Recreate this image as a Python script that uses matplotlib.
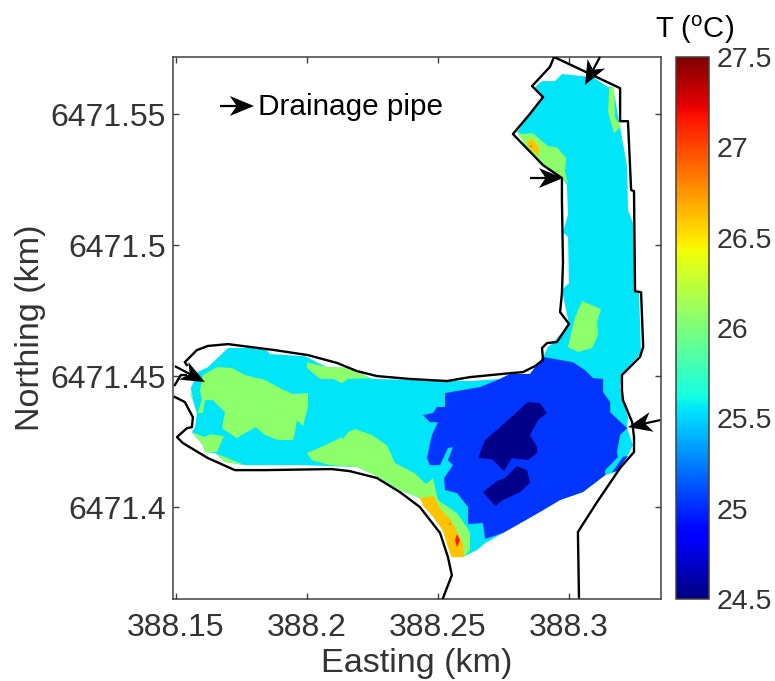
import numpy as np
import matplotlib
matplotlib.use("Agg")
import matplotlib.pyplot as plt
from matplotlib.cm import ScalarMappable
from matplotlib.colors import Normalize

# easting / northing of every outline are stored relative to these (km)
E0 = 388.0
N0 = 6471.0

x_ticks = [388.15, 388.2, 388.25, 388.3]
x_tick_labels = ["388.15", "388.2", "388.25", "388.3"]
y_ticks = [6471.4, 6471.45, 6471.5, 6471.55]
y_tick_labels = ["6471.4", "6471.45", "6471.5", "6471.55"]
cbar_ticks = [24.5, 25, 25.5, 26, 26.5, 27, 27.5]
cbar_tick_labels = ["24.5", "25", "25.5", "26", "26.5", "27", "27.5"]

shore_east = [(.2943, .5718), (.3195, .5599), (.3195, .5473), (.3225, .5473), (.3237, .5210),
              (.3248, .5206), (.3252, .4824), (.3275, .4820), (.3283, .4611), (.3271, .4573),
              (.3202, .4504), (.3202, .4447), (.3206, .4408), (.3241, .4324), (.3248, .4267),
              (.3248, .4210), (.3195, .4149), (.3107, .4019), (.3034, .3905), (.3038, .3656)]
shore_north = [(.2943, .5718), (.2927, .5680), (.2859, .5607), (.2901, .5565), (.2847, .5496),
               (.2786, .5424), (.2901, .5305), (.2973, .5256), (.2973, .5172), (.2977, .4931),
               (.2973, .4817), (.2966, .4744), (.3000, .4699), (.2954, .4630), (.2916, .4626),
               (.2897, .4607), (.2901, .4561), (.2870, .4538), (.2824, .4515), (.2775, .4511),
               (.2622, .4496), (.2534, .4481), (.2393, .4489), (.2267, .4500), (.2191, .4519),
               (.2115, .4550), (.2004, .4580), (.1878, .4599), (.1699, .4622), (.1622, .4615),
               (.1580, .4599), (.1534, .4553), (.1542, .4542)]
shore_stub = [(.1496, .4466), (.1519, .4504), (.1538, .4504)]
shore_south = [(.1496, .4420), (.1534, .4401), (.1565, .4343), (.1561, .4305), (.1542, .4301),
               (.1504, .4267), (.1527, .4244), (.1622, .4187), (.1725, .4141), (.1840, .4141),
               (.2095, .4145), (.2164, .4137), (.2267, .4111), (.2355, .4057), (.2431, .4000),
               (.2508, .3901), (.2538, .3809), (.2553, .3740), (.2519, .3652)]

t255_main = [(.2973, .5653), (.3092, .5641), (.3149, .5603), (.3168, .5603), (.3195, .5450),
             (.3222, .5298), (.3225, .5134), (.3244, .5084), (.3252, .4824), (.3267, .4817),
             (.3275, .4588), (.3202, .4508), (.3195, .4458), (.3225, .4343), (.3222, .4301),
             (.3244, .4236), (.3225, .4198), (.3176, .4133), (.3138, .4122), (.3053, .4057),
             (.2966, .4027), (.2889, .3981), (.2801, .3931), (.2748, .3901), (.2680, .3862),
             (.2649, .3836), (.2595, .3809), (.2553, .3809), (.2519, .3912), (.2431, .4034),
             (.2355, .4065), (.2267, .4118), (.2191, .4153), (.1973, .4160), (.1764, .4160),
             (.1687, .4172), (.1649, .4206), (.1611, .4210), (.1603, .4236), (.1561, .4286),
             (.1573, .4305), (.1580, .4359), (.1561, .4420), (.1557, .4454), (.1584, .4515),
             (.1622, .4534), (.1699, .4607), (.1840, .4607), (.1859, .4584), (.1992, .4576),
             (.2076, .4534), (.2164, .4531), (.2248, .4489), (.2622, .4481), (.2737, .4489),
             (.2775, .4508), (.2851, .4508), (.2901, .4573), (.2920, .4611), (.2939, .4626),
             (.3000, .4699), (.2973, .4829), (.3000, .4855), (.2996, .5031), (.2977, .5050),
             (.2996, .5115), (.2992, .5229), (.2973, .5256), (.2901, .5305), (.2801, .5432),
             (.2843, .5489), (.2901, .5561), (.2870, .5603), (.2897, .5626), (.2947, .5626)]

t26_ne = [(.3153, .5599), (.3172, .5603), (.3176, .5485), (.3199, .5454), (.3172, .5427), (.3149, .5508)]
t26_bend = [(.2801, .5432), (.2820, .5424), (.2862, .5427), (.2920, .5378), (.2954, .5374),
            (.2989, .5332), (.2985, .5278), (.2996, .5233), (.2973, .5256), (.2901, .5305),
            (.2840, .5370)]
t26_neck = [(.3050, .4786), (.3122, .4756), (.3107, .4706), (.3111, .4657), (.3088, .4607),
            (.3034, .4592), (.2996, .4611), (.3023, .4725)]
t26_west = [(.1592, .4447), (.1603, .4504), (.1657, .4534), (.1714, .4531), (.1764, .4504),
            (.1840, .4485), (.1897, .4454), (.1947, .4431), (.2004, .4435), (.2004, .4382),
            (.1985, .4309), (.1962, .4332), (.1954, .4282), (.1947, .4256), (.1889, .4256),
            (.1840, .4275), (.1805, .4305), (.1764, .4282), (.1733, .4263), (.1676, .4301),
            (.1687, .4362), (.1641, .4408), (.1611, .4408), (.1603, .4359), (.1584, .4359),
            (.1599, .4408)]
t26_west_edge = [(.1557, .4454), (.1565, .4420), (.1557, .4416)]
t26_sw = [(.1561, .4286), (.1611, .4267), (.1630, .4278), (.1683, .4271), (.1657, .4210),
          (.1611, .4210), (.1603, .4236)]
t26_sw_edge = [(.1649, .4206), (.1687, .4191), (.1764, .4160), (.1687, .4172)]
t26_north = [(.2000, .4553), (.2076, .4534), (.2164, .4531), (.2244, .4492), (.2157, .4489),
             (.2134, .4473), (.2099, .4489), (.2050, .4489), (.2000, .4531)]
t26_south = [(.2019, .4179), (.2000, .4206), (.2069, .4236), (.2134, .4267), (.2138, .4259),
             (.2157, .4286), (.2183, .4298), (.2248, .4275), (.2305, .4236), (.2336, .4168),
             (.2412, .4129), (.2454, .4088), (.2481, .4110), (.2500, .4027), (.2573, .3977),
             (.2622, .3905), (.2622, .3836), (.2599, .3809), (.2553, .3809), (.2519, .3912),
             (.2431, .4034), (.2355, .4065), (.2267, .4118), (.2191, .4153), (.2088, .4160)]

t265_bend = [(.2836, .5393), (.2859, .5405), (.2885, .5374), (.2885, .5340), (.2851, .5370)]
t265_south = [(.2431, .4034), (.2485, .4042), (.2504, .4000), (.2550, .3950), (.2595, .3862),
              (.2599, .3809), (.2553, .3809), (.2538, .3847), (.2519, .3912), (.2477, .3969),
              (.2447, .4000)]
t27_bend = [(.2851, .5382), (.2859, .5378), (.2855, .5374)]
t27_south = [(.2573, .3897), (.2584, .3874), (.2573, .3847), (.2565, .3874)]
t27_dot = [(.2542, .3938), (.2550, .3938), (.2546, .3931)]

t25_main = [(.2527, .4435), (.2660, .4458), (.2737, .4489), (.2775, .4508), (.2851, .4508),
            (.2901, .4573), (.3015, .4553), (.3061, .4523), (.3092, .4492), (.3130, .4489),
            (.3130, .4439), (.3157, .4401), (.3157, .4362), (.3222, .4301), (.3195, .4275),
            (.3183, .4210), (.3187, .4191), (.3138, .4141), (.3138, .4122), (.3053, .4057),
            (.2966, .4027), (.2889, .3981), (.2801, .3931), (.2748, .3901), (.2680, .3878),
            (.2672, .3939), (.2615, .3935), (.2615, .4000), (.2573, .4053), (.2527, .4065),
            (.2523, .4110), (.2557, .4160), (.2538, .4179), (.2557, .4229), (.2538, .4225),
            (.2508, .4160), (.2469, .4160), (.2458, .4187), (.2477, .4275), (.2500, .4324),
            (.2469, .4324), (.2443, .4351), (.2481, .4359), (.2496, .4382), (.2527, .4382)]
t25_east = [(.3225, .4195), (.3206, .4191), (.3164, .4133), (.3183, .4137)]
t245_north = [(.2843, .4401), (.2889, .4397), (.2916, .4359), (.2882, .4332), (.2851, .4275),
              (.2878, .4229), (.2878, .4206), (.2843, .4179), (.2782, .4187), (.2752, .4137),
              (.2706, .4183), (.2653, .4187), (.2680, .4256), (.2737, .4305)]
t245_south = [(.2801, .4156), (.2840, .4141), (.2851, .4092), (.2813, .4057), (.2748, .4027),
              (.2718, .4004), (.2672, .4057), (.2725, .4099), (.2756, .4111)]

# temperature shown by each band on the colour scale
T_NAVY = 24.53
T_BLUE = 25.03
T_CYAN = 25.55
T_GREEN = 26.07
T_ORANGE = 26.6
T_RED = 27.14

# back to front
zones = [(T_CYAN, t255_main), (T_GREEN, t26_ne), (T_GREEN, t26_bend), (T_GREEN, t26_neck),
         (T_GREEN, t26_west), (T_GREEN, t26_west_edge), (T_GREEN, t26_sw), (T_GREEN, t26_sw_edge),
         (T_GREEN, t26_north), (T_GREEN, t26_south), (T_ORANGE, t265_bend), (T_ORANGE, t265_south),
         (T_RED, t27_bend), (T_RED, t27_south), (T_RED, t27_dot), (T_BLUE, t25_main),
         (T_BLUE, t25_east), (T_NAVY, t245_north), (T_NAVY, t245_south)]

# drainage pipe arrows: tail then tip
pipe_arrows = [((.1668, .5531), (.1798, .5531)),
               ((.3118, .5718), (.3061, .5611)),
               ((.2851, .5256), (.2977, .5256)),
               ((.3348, .4332), (.3225, .4305)),
               ((.1496, .4538), (.1611, .4477))]

W, H = 775, 681
plt.rcParams["font.family"] = ["Liberation Sans", "DejaVu Sans"]
plt.rcParams["mathtext.fontset"] = "custom"
plt.rcParams["mathtext.rm"] = "Liberation Sans"
TXT = "#333333"
EDGE = "#404040"


def draw_arrow(ax, tail, tip):
    tail = np.array(tail)
    tip = np.array(tip)
    d = (tip - tail) / np.linalg.norm(tip - tail)
    n = np.array([-d[1], d[0]])
    ax.plot([tail[0] + E0, tip[0] + E0 - d[0] * .005], [tail[1] + N0, tip[1] + N0 - d[1] * .005],
            color="k", lw=1.6, solid_capstyle="butt", clip_on=False, zorder=5)
    head = np.array([tip, tip - d * .0092 + n * .0038, tip - d * .0066, tip - d * .0092 - n * .0038])
    ax.fill(head[:, 0] + E0, head[:, 1] + N0, color="k", lw=0, clip_on=False, zorder=6)


fig = plt.figure(figsize=(W / 100, H / 100), dpi=100)
ax = fig.add_axes([173 / W, 1 - 599 / H, (661 - 173) / W, (599 - 57) / H])

cmap = plt.get_cmap("jet")
norm = Normalize(24.5, 27.5)

for level, outline in zones:
    p = np.array(outline)
    ax.fill(p[:, 0] + E0, p[:, 1] + N0, color=cmap(norm(level)), lw=0)

for line in [shore_east, shore_north, shore_stub, shore_south]:
    p = np.array(line)
    ax.plot(p[:, 0] + E0, p[:, 1] + N0, color="k", lw=1.7, zorder=4)

for tail, tip in pipe_arrows:
    draw_arrow(ax, tail, tip)

ax.text(E0 + .1812, N0 + .5528, "Drainage pipe", fontsize=21.4, color="k", va="center", ha="left")

ax.set_xlim(388.1489, 388.3351)
ax.set_ylim(6471.3649, 6471.5718)
ax.set_xticks(x_ticks)
ax.set_xticklabels(x_tick_labels)
ax.set_yticks(y_ticks)
ax.set_yticklabels(y_tick_labels)
ax.tick_params(direction="in", top=True, right=True, length=4.5, width=1, color=EDGE,
               labelsize=23, labelcolor=TXT)
ax.tick_params(axis="x", pad=10)
ax.tick_params(axis="y", pad=5)
for s in ax.spines.values():
    s.set_color(EDGE)
    s.set_linewidth(1.1)
ax.set_xlabel("Easting (km)", fontsize=24.6, color=TXT, labelpad=3.8)
ax.set_ylabel("Northing (km)", fontsize=24.6, color=TXT, labelpad=3)

cax = fig.add_axes([676 / W, 1 - 599 / H, (709 - 676) / W, (599 - 57) / H])
cb = fig.colorbar(ScalarMappable(norm=norm, cmap=cmap), cax=cax)
cb.set_ticks(cbar_ticks)
cb.set_ticklabels(cbar_tick_labels)
cb.ax.tick_params(length=0, labelsize=20.5, labelcolor=TXT, pad=5.8)
cb.outline.set_edgecolor(EDGE)
cb.outline.set_linewidth(1.1)

fig.text(695 / W, 1 - 30 / H, r"T ($^{\rm o}$C)", fontsize=21, color="k", ha="center", va="center")

fig.savefig("out.png", dpi=100)
